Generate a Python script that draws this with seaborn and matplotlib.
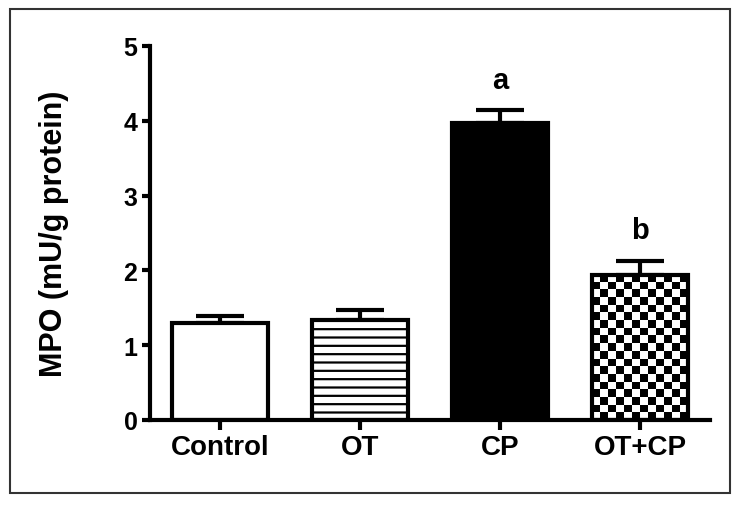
import numpy as np
import pandas as pd
import matplotlib
matplotlib.use("Agg")
import matplotlib.pyplot as plt
import matplotlib.patches as mpatches
import seaborn as sns

# data
groups = ["Control", "OT", "CP", "OT+CP"]
means = [1.30, 1.34, 3.97, 1.94]
sem = [0.09, 0.13, 0.17, 0.19]
letters = ["", "", "a", "b"]

sns.set_style("white")
plt.rcParams["font.family"] = ["Liberation Sans", "DejaVu Sans"]
plt.rcParams["font.weight"] = "bold"
plt.rcParams["text.color"] = "black"
plt.rcParams["axes.labelcolor"] = "black"
plt.rcParams["xtick.color"] = "black"
plt.rcParams["ytick.color"] = "black"
plt.rcParams["hatch.linewidth"] = 1.6

df = pd.DataFrame({"group": groups, "mpo": means})

fig = plt.figure(figsize=(7.42, 5.06), dpi=100)
ax = fig.add_axes([150 / 742, 1 - 421 / 506, 560 / 742, 374 / 506])

sns.barplot(data=df, x="group", y="mpo", color="white", edgecolor="black",
            linewidth=3, width=0.68, errorbar=None, ax=ax, zorder=2)

bars = ax.patches
bars[1].set_hatch("--")
bars[2].set_facecolor("black")

# checkerboard fill for OT+CP
b = bars[3]
x0, y0 = b.get_x(), b.get_y()
w, h = b.get_width(), b.get_height()
nx, ny = 12, 19
checker = (np.add.outer(np.arange(ny), np.arange(nx)) % 2).astype(float)
im = ax.imshow(checker, cmap="gray_r", extent=[x0, x0 + w, y0, y0 + h],
               aspect="auto", interpolation="nearest", zorder=2.5, origin="lower")
im.set_clip_path(b)
b.set_zorder(3)
b.set_facecolor("none")

# upper error bars only
xs = np.arange(len(groups))
ax.errorbar(xs, means, yerr=[np.zeros(len(sem)), sem], fmt="none",
            ecolor="black", elinewidth=3, capsize=17, capthick=3, zorder=1)

for x, m, s, t in zip(xs, means, sem, letters):
    if t:
        ax.text(x, m + s + 0.22, t, ha="center", va="bottom",
                fontsize=21, fontweight="bold")

ax.set_xlim(-0.5, 3.5)
ax.set_ylim(0, 5)
ax.set_yticks([0, 1, 2, 3, 4, 5])
ax.set_xlabel("")
ax.set_ylabel("MPO (mU/g protein)", fontsize=22, fontweight="bold")
ax.yaxis.set_label_coords(-0.145, 0.5)

sns.despine(ax=ax)
for sp in ["left", "bottom"]:
    ax.spines[sp].set_linewidth(3)
    ax.spines[sp].set_color("black")
ax.tick_params(axis="y", direction="out", length=6, width=3, pad=3,
               labelsize=18, left=True)
ax.tick_params(axis="x", direction="out", length=7, width=3, pad=3,
               labelsize=20, bottom=True)
for lab in ax.get_xticklabels() + ax.get_yticklabels():
    lab.set_fontweight("bold")

# outer frame
fig.patches.append(mpatches.Rectangle((10 / 742, 12 / 506), 720 / 742, 484 / 506,
                                      transform=fig.transFigure, fill=False,
                                      edgecolor="#333333", linewidth=1.5))

fig.savefig("out.png", dpi=100)
